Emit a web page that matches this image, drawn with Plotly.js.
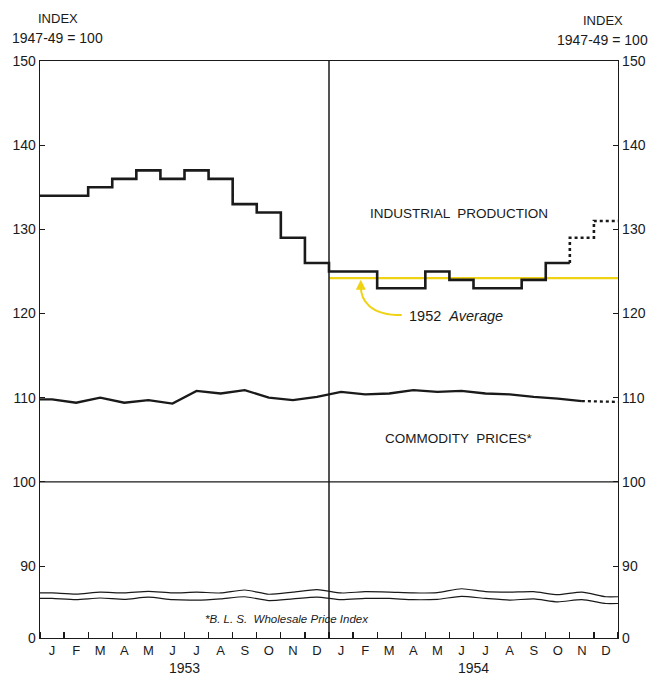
<!DOCTYPE html>
<html>
<head>
<meta charset="utf-8">
<script src="https://cdn.plot.ly/plotly-3.0.1.min.js"></script>
<style>html,body{margin:0;padding:0;background:#fff;}#chart{width:653px;height:677px;}</style>
</head>
<body>
<div id="chart"></div>
<script>
// ---- data ----
const monthLetters = ['J','F','M','A','M','J','J','A','S','O','N','D'];
const years = ['1953','1954'];
// Industrial production, Jan 1953 – Oct 1954 (solid)
const ipActual = [134,134,135,136,137,136,137,136,133,132,129,126, 125,125,123,123,125,124,123,123,124,126];
// Preliminary Nov, Dec 1954 (dotted)
const ipPrelim = [129,131];
const avg1952 = 124.2;
// BLS wholesale price index, Jan 1953 – Nov 1954 (solid)
const wpiActual = [109.8,109.4,110.0,109.4,109.7,109.3,110.8,110.5,110.9,110.0,109.7,110.1, 110.7,110.4,110.5,110.9,110.7,110.8,110.5,110.4,110.1,109.9,109.6];
// Preliminary Dec 1954 (dotted)
const wpiPrelim = [109.5];
// scale-break wavy lines (per month)
const breakUpper = [86.8,86.67,86.9,86.8,87.0,86.8,86.9,86.8,87.15,86.65,86.9,87.2, 86.8,86.95,86.9,86.8,86.85,87.3,86.95,86.9,86.95,86.6,86.9,86.35];
const breakLower = [86.15,86.0,86.2,86.05,86.3,86.0,85.95,86.1,86.35,85.9,86.1,86.3, 86.0,86.15,86.15,86.0,86.05,86.4,86.15,85.95,86.1,85.75,86.0,85.55];
const yTickVals = [81.45,90,100,110,120,130,140,150];
const yTickText = ['0','90','100','110','120','130','140','150'];

// ---- derived ----
const nM = monthLetters.length * years.length;
const centers = Array.from({length:nM},(_,i)=>i+0.5);
const bounds = Array.from({length:nM+1},(_,i)=>i);
const monthText = years.flatMap(()=>monthLetters);

const ipX = ipActual.map((_,i)=>i).concat([ipActual.length]);
const ipY = ipActual.concat([ipActual[ipActual.length-1]]);
const n0 = ipActual.length;
const ipPX = [n0].concat(ipPrelim.map((_,i)=>n0+i)).concat([nM]);
const ipPY = [ipActual[n0-1]].concat(ipPrelim).concat([ipPrelim[ipPrelim.length-1]]);

const wX = [0].concat(wpiActual.map((_,i)=>i+0.5));
const wY = [wpiActual[0]].concat(wpiActual);
const w0 = wpiActual.length;
const wPX = [w0-0.5].concat(wpiPrelim.map((_,i)=>w0+i+0.5)).concat([nM]);
const wPY = [wpiActual[w0-1]].concat(wpiPrelim).concat([wpiPrelim[wpiPrelim.length-1]]);

const bX = [0].concat(centers).concat([nM]);
const bU = [breakUpper[0]].concat(breakUpper).concat([breakUpper[nM-1]]);
const bL = [breakLower[0]].concat(breakLower).concat([breakLower[nM-1]]);

const FONT = 'Liberation Sans, Arial, sans-serif';
const INK = '#1a1a1a';
const YEL = '#f0d214';

const traces = [
  {x:bX, y:bU, mode:'lines', line:{color:INK,width:1.2,shape:'spline',smoothing:0.6}, hoverinfo:'skip'},
  {x:bX, y:bL, mode:'lines', line:{color:INK,width:1.2,shape:'spline',smoothing:0.6}, hoverinfo:'skip'},
  {x:[12,nM], y:[avg1952,avg1952], mode:'lines', line:{color:YEL,width:2.2}},
  {x:ipX, y:ipY, mode:'lines', line:{color:INK,width:2.6,shape:'hv'}},
  {x:ipPX, y:ipPY, mode:'lines', line:{color:INK,width:2.6,shape:'hv',dash:'3px,3px'}},
  {x:wX, y:wY, mode:'lines', line:{color:INK,width:2.3}},
  {x:wPX, y:wPY, mode:'lines', line:{color:INK,width:2.3,dash:'3px,3px'}, yaxis:'y2'}
];

const axFont = {family:FONT, size:14, color:INK};
const layout = {
  width:653, height:677,
  margin:{l:40, r:35, t:61, b:39},
  paper_bgcolor:'#fff', plot_bgcolor:'#fff',
  showlegend:false,
  xaxis:{
    range:[0,nM], showgrid:false, zeroline:false,
    showline:true, linecolor:INK, linewidth:1.3, mirror:true,
    tickmode:'array', tickvals:centers, ticktext:monthText, ticks:'',
    tickfont:{family:FONT, size:13, color:INK},
    minor:{tickmode:'array', tickvals:bounds, ticks:'inside', ticklen:6, tickcolor:INK, tickwidth:1.2, showgrid:false}
  },
  yaxis:{
    range:[81.45,150], showgrid:false, zeroline:false,
    showline:true, linecolor:INK, linewidth:1.3,
    tickmode:'array', tickvals:yTickVals, ticktext:yTickText,
    ticks:'inside', ticklen:5, tickcolor:INK, tickfont:axFont
  },
  yaxis2:{
    overlaying:'y', side:'right', range:[81.45,150], showgrid:false, zeroline:false,
    showline:true, linecolor:INK, linewidth:1.3,
    tickmode:'array', tickvals:yTickVals, ticktext:yTickText,
    ticks:'inside', ticklen:5, tickcolor:INK, tickfont:axFont
  },
  shapes:[
    {type:'line', xref:'x', yref:'paper', x0:12, x1:12, y0:0, y1:1, line:{color:INK,width:1.5}},
    {type:'line', xref:'paper', yref:'y', x0:0, x1:1, y0:100, y1:100, line:{color:INK,width:1.2}},
    {type:'path', xref:'x', yref:'y', path:'M 15.02,119.81 C 13.69,119.81 13.32,121.6 13.32,123.2', line:{color:YEL,width:2}}
  ],
  annotations:[
    {xref:'x', yref:'y', x:13.32, y:124.0, ax:13.32, ay:123.1, axref:'x', ayref:'y', text:'', showarrow:true, arrowhead:2, arrowsize:1, arrowwidth:2, arrowcolor:YEL},
    {xref:'x', yref:'y', x:17.39, y:131.9, xanchor:'center', yanchor:'middle', text:'INDUSTRIAL  PRODUCTION', showarrow:false, font:{family:FONT,size:13.5,color:INK}},
    {xref:'x', yref:'y', x:17.39, y:105.2, xanchor:'center', yanchor:'middle', text:'COMMODITY  PRICES*', showarrow:false, font:{family:FONT,size:13.5,color:INK}},
    {xref:'x', yref:'y', x:15.23, y:119.7, xanchor:'left', yanchor:'middle', text:'1952  <i>Average</i>', showarrow:false, font:{family:FONT,size:14.5,color:INK}},
    {xref:'x', yref:'y', x:10.25, y:83.75, xanchor:'center', yanchor:'middle', text:'<i>*B. L. S.  Wholesale Price Index</i>', showarrow:false, font:{family:FONT,size:11.5,color:INK}},
    {xref:'x', yref:'paper', x:6, y:-0.052, xanchor:'center', yanchor:'middle', text:years[0], showarrow:false, font:{family:FONT,size:14,color:INK}},
    {xref:'x', yref:'paper', x:18, y:-0.052, xanchor:'center', yanchor:'middle', text:years[1], showarrow:false, font:{family:FONT,size:14,color:INK}},
    {xref:'paper', yref:'paper', x:0.031, y:1.0745, xanchor:'center', yanchor:'middle', text:'INDEX', showarrow:false, font:{family:FONT,size:13,color:INK}},
    {xref:'paper', yref:'paper', x:0.031, y:1.040, xanchor:'center', yanchor:'middle', text:'1947-49 = 100', showarrow:false, font:{family:FONT,size:14,color:INK}},
    {xref:'paper', yref:'paper', x:0.974, y:1.071, xanchor:'center', yanchor:'middle', text:'INDEX', showarrow:false, font:{family:FONT,size:13,color:INK}},
    {xref:'paper', yref:'paper', x:0.9725, y:1.0365, xanchor:'center', yanchor:'middle', text:'1947-49 = 100', showarrow:false, font:{family:FONT,size:14,color:INK}}
  ]
};
Plotly.newPlot('chart', traces, layout, {displayModeBar:false, staticPlot:true});
</script>
</body>
</html>
